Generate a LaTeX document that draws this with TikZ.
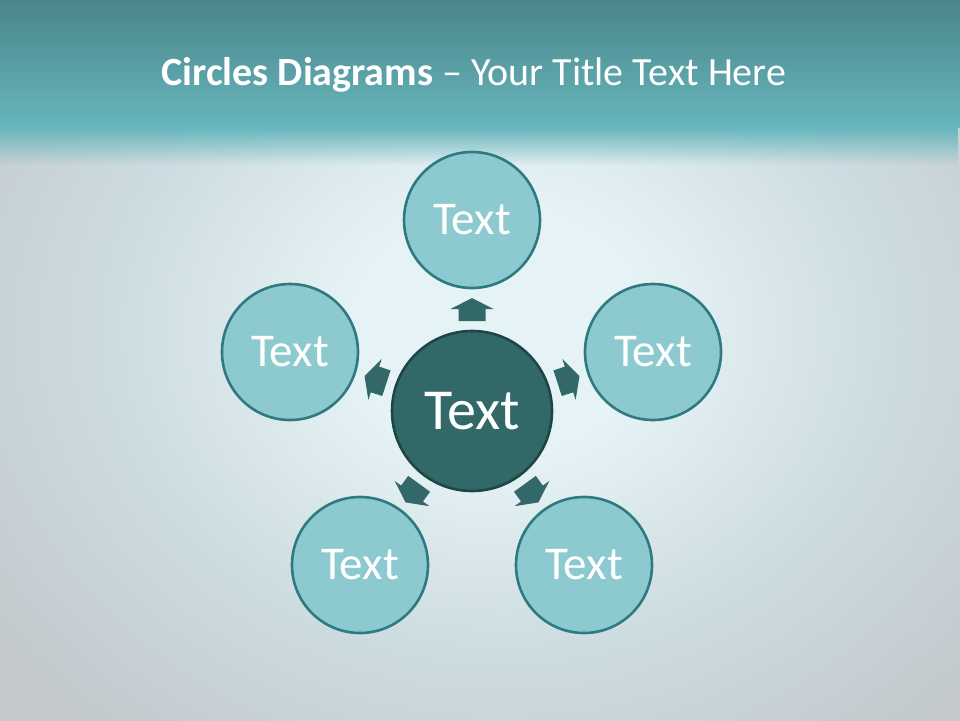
\documentclass[tikz,border=0pt]{standalone}
\usepackage{fontspec}
\usetikzlibrary{fadings}
\setmainfont{Carlito}
\definecolor{bgout}{HTML}{C3C9CD}
\definecolor{bgmid}{HTML}{CCDBE0}
\definecolor{bgin}{HTML}{E6F3F6}
\definecolor{bandtop}{HTML}{4A858A}
\definecolor{bandbot}{HTML}{66B6BC}
\definecolor{ringfill}{HTML}{8DCACF}
\definecolor{ringline}{HTML}{2E7A80}
\definecolor{hubfill}{HTML}{336868}
\definecolor{hubline}{HTML}{1E4646}
\definecolor{arrowc}{HTML}{336868}
\pgfdeclareradialshading{glow}{\pgfpoint{0bp}{0bp}}{%
  color(0bp)=(bgin); color(6bp)=(bgin); color(16bp)=(bgmid); color(25bp)=(bgout); color(50bp)=(bgout)}
\begin{document}
\begin{tikzpicture}[x=1pt,y=-1pt,
  outer/.style={circle,minimum size=136pt,inner sep=0pt,fill=ringfill,draw=ringline,line width=2.6pt,text=white,font=\fontsize{47}{47}\selectfont},
  hub/.style={circle,minimum size=160pt,inner sep=0pt,fill=hubfill,draw=hubline,line width=2.6pt,text=white,font=\fontsize{58}{58}\selectfont},
  pointer/.style={fill=arrowc,draw=none}]
\useasboundingbox (0,0) rectangle (960,720);
% background
\begin{scope}
\clip (0,0) rectangle (960,720);
\fill[bgout] (-5,-5) rectangle (965,725);
\shade[shading=glow] (500,330) ellipse [x radius=620,y radius=520];
\end{scope}
% top band
\shade[top color=bandtop,bottom color=bandbot] (0,0) rectangle (960,127);
\fill[path fading=south,fill=bandbot] (0,127) rectangle (960,165);
\node[text=white,font=\fontsize{40}{40}\selectfont,anchor=west] (title) at (158,75) {\textbf{Circles Diagrams} – Your Title Text Here};
% arrows
\foreach \a in {0,72,144,216,288}{
  \fill[pointer,shift={(472,411)},rotate=\a] (0,-113) -- (21.5,-102) -- (13.5,-102) -- (13.5,-90) -- (-13.5,-90) -- (-13.5,-102) -- (-21.5,-102) -- cycle;
}
% circles
\node[hub] (c) at (472,411) {Text};
\node[outer] (t) at (472,220) {Text};
\node[outer] (l) at (290,352) {Text};
\node[outer] (r) at (653,352) {Text};
\node[outer] (bl) at (360,565) {Text};
\node[outer] (br) at (584,565) {Text};
\end{tikzpicture}
\end{document}
